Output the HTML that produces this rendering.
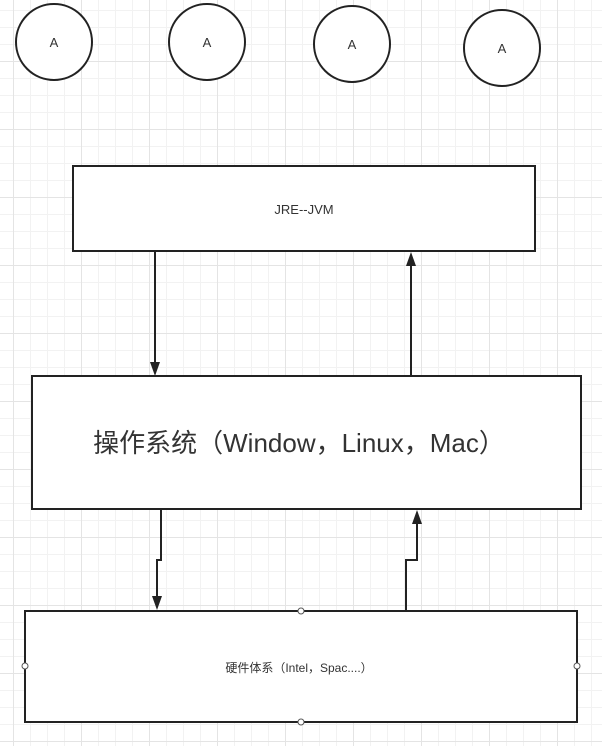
<!DOCTYPE html>
<html><head><meta charset="utf-8"><style>
html,body{margin:0;padding:0;background:#fff}
body{width:602px;height:746px;overflow:hidden;
background-image:
linear-gradient(to right,#e4e4e4 1px,transparent 1px),
linear-gradient(to bottom,#e4e4e4 1px,transparent 1px),
linear-gradient(to right,#f2f2f2 1px,transparent 1px),
linear-gradient(to bottom,#f2f2f2 1px,transparent 1px);
background-size:68px 68px,68px 68px,17px 17px,17px 17px;
background-position:13px 61px,13px 61px,13px 10px,13px 10px;}
svg{position:absolute;left:0;top:0}
text{font-family:"Liberation Sans","Noto Sans CJK SC",sans-serif;fill:#333}
</style></head><body>
<svg width="602" height="746" viewBox="0 0 602 746">
<g fill="#fff" stroke="#222" stroke-width="2">
<circle cx="54" cy="42" r="38"/>
<circle cx="207" cy="42" r="38"/>
<circle cx="352" cy="44" r="38"/>
<circle cx="502" cy="48" r="38"/>
<rect x="73" y="166" width="462" height="85"/>
<rect x="32" y="376" width="549" height="133"/>
<rect x="25" y="611" width="552" height="111"/>
</g>
<g font-size="13" text-anchor="middle">
<text x="54" y="47">A</text>
<text x="207" y="47">A</text>
<text x="352" y="49">A</text>
<text x="502" y="53">A</text>
<text x="304" y="214">JRE--JVM</text>
<text x="299" y="672" font-size="12">硬件体系（Intel，Spac....）</text>
</g>
<text x="299" y="452" font-size="26" text-anchor="middle">操作系统（Window，Linux，Mac）</text>
<g stroke="#222" stroke-width="2" fill="none">
<path d="M155 251 V364"/>
<path d="M411 376 V264"/>
<path d="M161 509 V560 H157 V598"/>
<path d="M406 611 V560 H417 V522"/>
</g>
<g fill="#222">
<path d="M150 362 L160 362 L155 376Z"/>
<path d="M406 266 L416 266 L411 252Z"/>
<path d="M152 596 L162 596 L157 610Z"/>
<path d="M412 524 L422 524 L417 510Z"/>
</g>
<g fill="#fff" stroke="#555" stroke-width="1">
<circle cx="301" cy="611" r="3"/>
<circle cx="301" cy="722" r="3"/>
<circle cx="25" cy="666" r="3"/>
<circle cx="577" cy="666" r="3"/>
</g>
</svg>
</body></html>
